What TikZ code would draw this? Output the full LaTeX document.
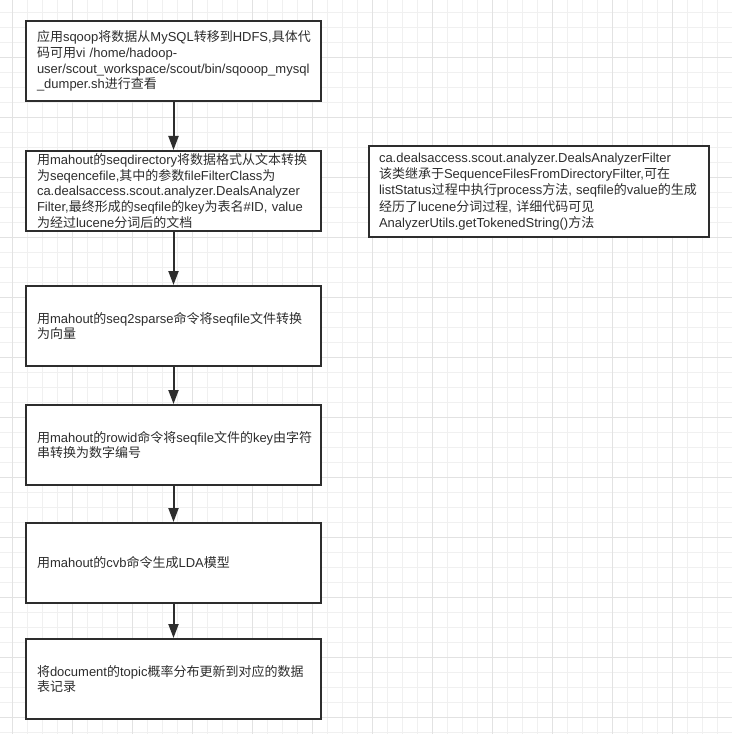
\documentclass[tikz,border=0pt]{standalone}
\usepackage{fontspec}
\setmainfont{Liberation Sans}
\newfontfamily\latinf{Liberation Sans}
\newfontfamily\cjkf{Noto Sans CJK SC}
\usetikzlibrary{arrows.meta}
\XeTeXinterchartokenstate=1
\chardef\cjkcls=10
\makeatletter
\count@="3000
\loop
  \XeTeXcharclass\count@=\cjkcls
  \advance\count@ by 1
\ifnum\count@<"A000 \repeat
\count@="FF00
\loop
  \XeTeXcharclass\count@=\cjkcls
  \advance\count@ by 1
\ifnum\count@<"FFF0 \repeat
\makeatother
\XeTeXinterchartoks 0 \cjkcls = {\cjkf}
\XeTeXinterchartoks 4095 \cjkcls = {\cjkf}
\XeTeXinterchartoks \cjkcls 0 = {\latinf}
\XeTeXinterchartoks \cjkcls 4095 = {\latinf}
\definecolor{boxc}{RGB}{45,45,45}
\definecolor{txtc}{RGB}{45,45,45}
\definecolor{minorc}{RGB}{240,240,240}
\definecolor{majorc}{RGB}{226,226,226}
\begin{document}
\begin{tikzpicture}[x=1bp,y=-1bp,
  boxstyle/.style={draw=boxc, line width=2bp, fill=white, rectangle,
    inner xsep=11bp, inner ysep=0pt, align=left, text width=273bp,
    minimum height=80bp, text=txtc, anchor=north west,
    font=\fontsize{13bp}{15.8bp}\selectfont},
  notestyle/.style={boxstyle, inner xsep=10bp, text width=320bp, minimum height=91bp,
    font=\fontsize{13bp}{16.2bp}\selectfont},
  arr/.style={draw=boxc, line width=2bp, -{Triangle[length=14bp,width=10bp]}},
  minorline/.style={draw=minorc, line width=1bp},
  majorline/.style={draw=majorc, line width=1bp}]
\useasboundingbox (0,0) rectangle (732,734);
\fill[white] (0,0) rectangle (732,734);
\foreach \k in {0,...,48} {
  \draw[minorline] ({12.5+15*\k},0) -- ({12.5+15*\k},734);
  \draw[minorline] (0,{12.5+15*\k}) -- (732,{12.5+15*\k});
}
\foreach \m in {0,...,12} {
  \draw[majorline] ({12.5+60*\m},0) -- ({12.5+60*\m},734);
}
\foreach \m in {0,...,11} {
  \draw[majorline] (0,{57.5+60*\m}) -- (732,{57.5+60*\m});
}
\node[boxstyle] (b1) at (25,20) {应用sqoop将数据从MySQL转移到HDFS,具体代\\码可用vi /home/hadoop-\\user/scout\_workspace/scout/bin/sqooop\_mysql\\\_dumper.sh进行查看};
\node[boxstyle] (b2) at (25,150) {用mahout的seqdirectory将数据格式从文本转换\\为seqencefile,其中的参数fileFilterClass为\\ca.dealsaccess.scout.analyzer.DealsAnalyzer\\Filter,最终形成的seqfile的key为表名\#ID, value\\为经过lucene分词后的文档};
\node[boxstyle] (b3) at (25,285) {用mahout的seq2sparse命令将seqfile文件转换\\为向量};
\node[boxstyle] (b4) at (25,404) {用mahout的rowid命令将seqfile文件的key由字符\\串转换为数字编号};
\node[boxstyle] (b5) at (25,522) {用mahout的cvb命令生成LDA模型};
\node[boxstyle] (b6) at (25,638) {将document的topic概率分布更新到对应的数据\\表记录};
\node[notestyle] (note) at (368,145) {ca.dealsaccess.scout.analyzer.DealsAnalyzerFilter\\该类继承于SequenceFilesFromDirectoryFilter,可在\\listStatus过程中执行process方法, seqfile的value的生成\\经历了lucene分词过程, 详细代码可见\\AnalyzerUtils.getTokenedString()方法};
\draw[arr] (b1) -- (b2);
\draw[arr] (b2) -- (b3);
\draw[arr] (b3) -- (b4);
\draw[arr] (b4) -- (b5);
\draw[arr] (b5) -- (b6);
\end{tikzpicture}
\end{document}
